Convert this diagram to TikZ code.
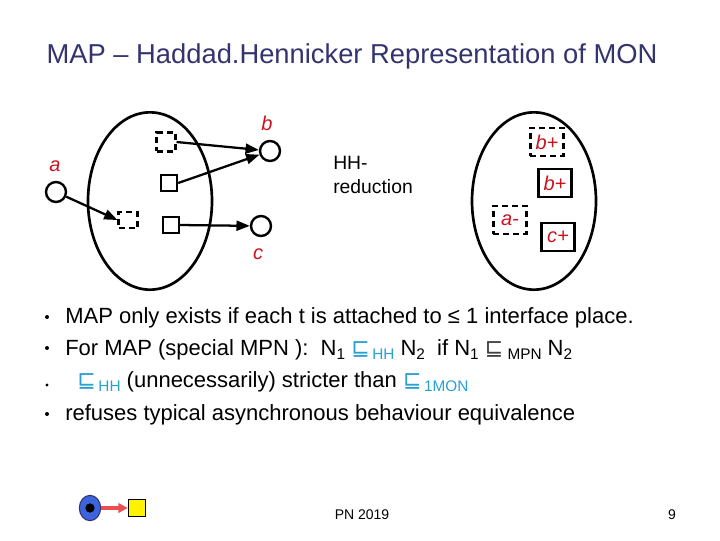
\documentclass[tikz,border=0pt]{standalone}
\usepackage{fontspec}
\setmainfont{Liberation Sans}
\newfontfamily\dejavu{DejaVu Sans}
\usetikzlibrary{arrows.meta,shapes.geometric}
\definecolor{navy}{RGB}{51,51,110}
\definecolor{lblred}{RGB}{200,20,30}
\definecolor{relblue}{RGB}{40,160,210}
\definecolor{tokblue}{RGB}{60,100,220}
\definecolor{arrred}{RGB}{235,80,80}
\newcommand{\rel}{{\dejavu ⊑}}
\newcommand{\subs}[1]{\raisebox{-0.4ex}{\fontsize{11.5pt}{13pt}\selectfont #1}}
\tikzset{
  arr/.style={line width=1.7pt,-{Triangle[length=10pt,width=7.5pt]}},
  oval/.style={draw,line width=2pt,ellipse,minimum width=93pt,minimum height=133pt},
  place/.style={draw,circle,line width=1.8pt,minimum size=15pt,inner sep=0pt},
  trans/.style={draw,line width=1.8pt,minimum size=12pt,inner sep=0pt},
  dtrans/.style={draw,line width=1.8pt,dash pattern=on 4.5pt off 3pt,minimum size=14pt,inner sep=0pt},
  lbl/.style={text=lblred,font=\fontsize{15pt}{17pt}\selectfont\itshape},
  blbl/.style={text=lblred,font=\fontsize{15pt}{17pt}\selectfont\itshape,inner sep=0pt,minimum width=25pt,minimum height=21pt,draw=black,line width=1.8pt},
  dblbl/.style={blbl,dash pattern=on 4.5pt off 3pt},
  bul/.style={anchor=base west,font=\fontsize{16.5pt}{19pt}\selectfont,inner sep=0pt},
  dot/.style={circle,fill=black,inner sep=0pt,minimum size=3pt}
}
\begin{document}
\begin{tikzpicture}[x=0.75pt,y=-0.75pt]
\useasboundingbox (0,0) rectangle (720,540);
% title
\node[text=navy,font=\fontsize{20.5pt}{24pt}\selectfont] (title) at (352,56) {MAP -- Haddad.Hennicker Representation of MON};
% left net
\node[oval] (L) at (150,201) {};
\node[dtrans] (t1) at (166,142) {};
\node[trans] (t2) at (169,183) {};
\node[dtrans,minimum width=14pt,minimum height=12pt] (t3) at (128,220) {};
\node[trans] (t4) at (171,225) {};
\node[place] (a) at (56,192) {};
\node[place] (b) at (270,151) {};
\node[place] (c) at (261,226) {};
\node[lbl] (la) at (55,166) {a};
\node[lbl] (lb) at (267,123) {b};
\node[lbl] (lc) at (258,254) {c};
\draw[arr] (t1.east) -- (b);
\draw[arr] (t2.east) -- (b);
\draw[arr] (a) -- (t3.west);
\draw[arr] (t4.east) -- (c);
% reduction text
\node[anchor=north west,align=left,font=\fontsize{14.5pt}{18pt}\selectfont,inner sep=0pt] (hh) at (333,156) {HH-\\reduction};
% right net
\node[oval] (R) at (534,201) {};
\node[dblbl] (r1) at (547,142) {b+};
\node[blbl] (r2) at (555,183) {b+};
\node[dblbl] (r3) at (510,220) {a-};
\node[blbl] (r4) at (558,237) {c+};
% bullets
\node[dot] (d1) at (47,317) {};
\node[dot] (d2) at (47,348) {};
\node[dot,minimum size=2.5pt] (d3) at (47,385) {};
\node[dot] (d4) at (47,414) {};
\node[bul] (b1) at (65,323) {MAP only exists if each t is attached to ≤ 1 interface place.};
\node[bul] (b2) at (65,355) {For MAP (special MPN ):\ \ N\subs{1} {\color{relblue}\rel\subs{\,HH}} N\subs{2}\ \ if N\subs{1} {\color{darkgray}\rel}\subs{\ MPN} N\subs{2}};
\node[bul] (b3) at (65,387) {\ \ {\color{relblue}\rel\subs{\,HH}} (unnecessarily) stricter than {\color{relblue}\rel\subs{\,1MON}}};
\node[bul] (b4) at (65,420) {refuses typical asynchronous behaviour equivalence};
% footer
\node[draw=navy,fill=tokblue,ellipse,minimum width=16pt,minimum height=19pt,line width=0.8pt,inner sep=0pt] (tok) at (90,508) {};
\node[circle,fill=black,minimum size=7pt,inner sep=0pt] (tokd) at (90,508) {};
\node[draw=black,fill=yellow,minimum size=13pt,inner sep=0pt,line width=0.8pt] (ysq) at (137,508) {};
\draw[arrred,line width=2.5pt,-{Triangle[length=7pt,width=7pt]}] (tok.east) -- (ysq.west);
\node[font=\fontsize{10.5pt}{12pt}\selectfont] (pn) at (362,515) {PN 2019};
\node[font=\fontsize{10.5pt}{12pt}\selectfont] (pg) at (672,515) {9};
\end{tikzpicture}
\end{document}
